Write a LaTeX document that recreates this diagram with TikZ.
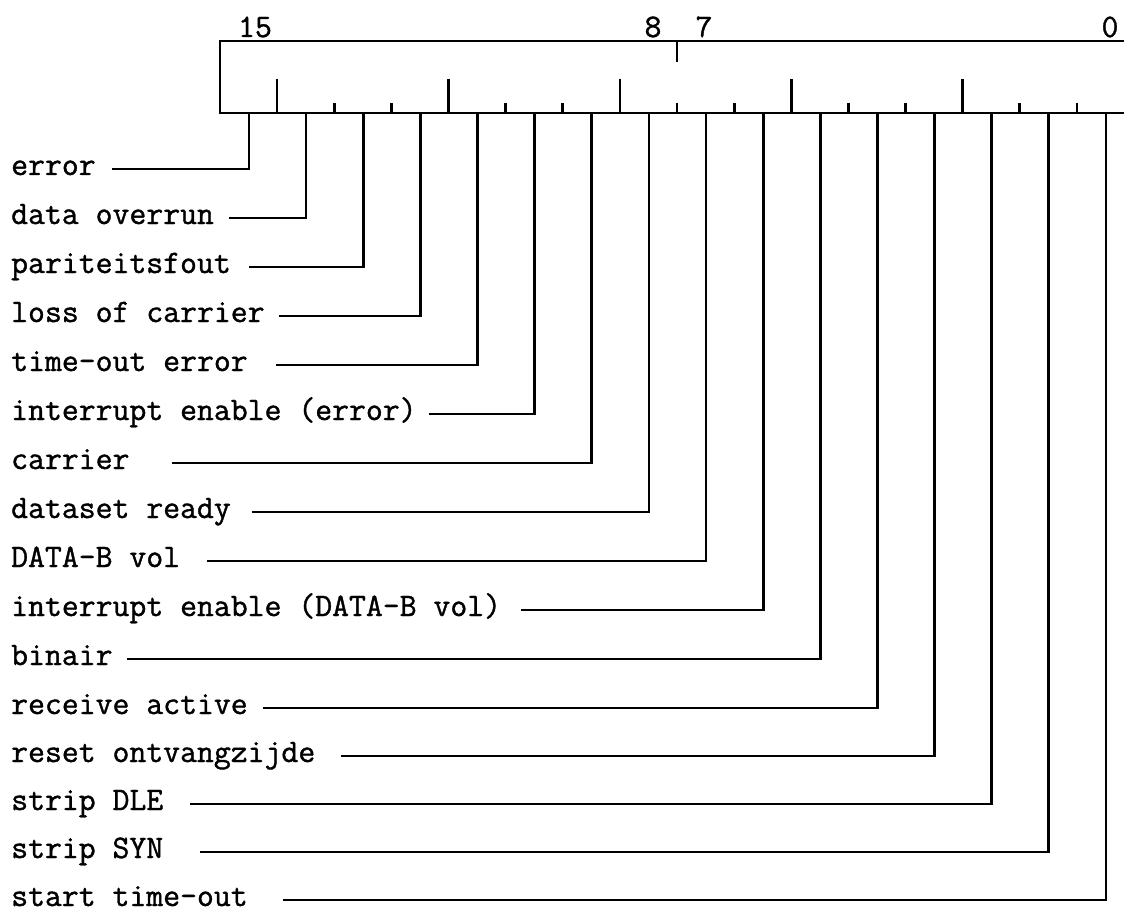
\documentclass[tikz,border=0pt]{standalone}
\usepackage{fontspec}
\newfontfamily\typewriter{Latin Modern Mono}[FakeBold=1.2]

\tikzset{
    wire/.style={line width=2.7pt},
    flag/.style={anchor=west, inner sep=0pt, text height=12pt, text depth=0pt,
        font=\fontsize{32.8}{38}\selectfont\typewriter},
    bitnr/.style={anchor=base, inner sep=0pt,
        font=\fontsize{32.8}{38}\selectfont\typewriter},
}

\begin{document}
\begin{tikzpicture}[x=1pt, y=-1pt]
    \useasboundingbox (0,0) rectangle (1124,912);

    % register, its right end runs off the page
    \draw[wire] (1124,41) -- (220,41) -- (220,113) -- (1124,113);
    \draw[wire] (677,41) -- (677,62);
    \foreach \j in {1,4,7,10,13}
        \draw[wire] (220+\j*57.13,79) -- (220+\j*57.13,113);
    \foreach \j in {2,3,5,6,8,9,11,12,14,15}
        \draw[wire] (220+\j*57.13,103) -- (220+\j*57.13,113);

    \node[bitnr] (nr15) at (255,37) {15};
    \node[bitnr] (nr8) at (653,37) {8};
    \node[bitnr] (nr7) at (704,37) {7};
    \node[bitnr] (nr0) at (1110,37) {0};

    \foreach \i in {0,...,15}
        \coordinate (bit\i) at ({249+(15-\i)*57.13},113);

    % status bits
    \node[flag] (error) at (11,169) {error};
    \draw[wire] ([xshift=16pt]error.east) -| (bit15);
    \node[flag] (overrun) at (11,218) {data overrun};
    \draw[wire] ([xshift=15pt]overrun.east) -| (bit14);
    \node[flag] (parity) at (11,267) {pariteitsfout};
    \draw[wire] ([xshift=18pt]parity.east) -| (bit13);
    \node[flag] (carrierloss) at (11,316) {loss of carrier};
    \draw[wire] ([xshift=14pt]carrierloss.east) -| (bit12);
    \node[flag] (timeouterr) at (11,365) {time-out error};
    \draw[wire] ([xshift=28pt]timeouterr.east) -| (bit11);
    \node[flag] (ieerror) at (11,414) {interrupt enable (error)};
    \draw[wire] ([xshift=12pt]ieerror.east) -| (bit10);
    \node[flag] (carrier) at (11,463) {carrier};
    \draw[wire] ([xshift=42pt]carrier.east) -| (bit9);
    \node[flag] (dsr) at (11,512) {dataset ready};
    \draw[wire] ([xshift=21pt]dsr.east) -| (bit8);
    \node[flag] (datab) at (11,561) {DATA-B vol};
    \draw[wire] ([xshift=27pt]datab.east) -| (bit7);
    \node[flag] (iedatab) at (11,610) {interrupt enable (DATA-B vol)};
    \draw[wire] ([xshift=20pt]iedatab.east) -| (bit6);
    \node[flag] (binair) at (11,659) {binair};
    \draw[wire] ([xshift=14pt]binair.east) -| (bit5);
    \node[flag] (recact) at (11,708) {receive active};
    \draw[wire] ([xshift=15pt]recact.east) -| (bit4);
    \node[flag] (resetrx) at (11,756) {reset ontvangzijde};
    \draw[wire] ([xshift=26pt]resetrx.east) -| (bit3);
    \node[flag] (stripdle) at (11,804) {strip DLE};
    \draw[wire] ([xshift=27pt]stripdle.east) -| (bit2);
    \node[flag] (stripsyn) at (11,852) {strip SYN};
    \draw[wire] ([xshift=37pt]stripsyn.east) -| (bit1);
    \node[flag] (starttimeout) at (11,900) {start time-out};
    \draw[wire] ([xshift=35pt]starttimeout.east) -| (bit0);
\end{tikzpicture}
\end{document}
